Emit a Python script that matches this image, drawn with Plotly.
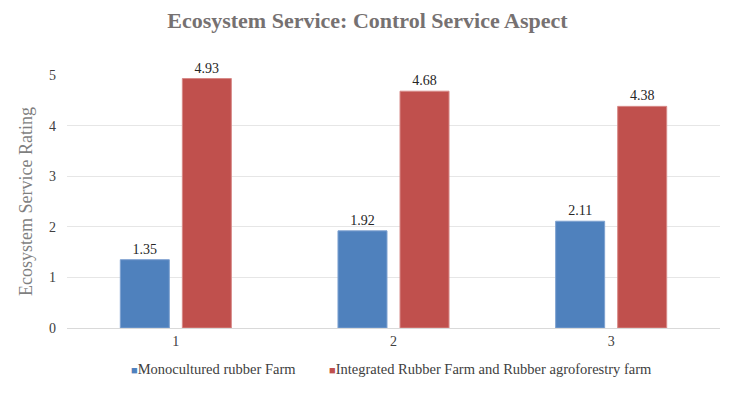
import plotly.graph_objects as go

categories = ["1", "2", "3"]
mono_values = [1.35, 1.92, 2.11]
integrated_values = [4.93, 4.68, 4.38]
series_names = ["Monocultured rubber Farm", "Integrated Rubber Farm and Rubber agroforestry farm"]
series_colors = ["#4F81BD", "#C0504D"]
title_text = "Ecosystem Service: Control Service Aspect"
y_title = "Ecosystem Service Rating"
y_ticks = [0, 1, 2, 3, 4, 5]

serif = "Liberation Serif, Times New Roman, serif"

fig = go.Figure()
fig.add_trace(go.Bar(
    x=categories, y=mono_values, name=series_names[0],
    marker=dict(color=series_colors[0], line=dict(color="#7EA1D0", width=1)),
    text=[f"{v:.2f}" for v in mono_values], textposition="outside",
    textfont=dict(family=serif, size=14, color="#262626"), cliponaxis=False,
))
fig.add_trace(go.Bar(
    x=categories, y=integrated_values, name=series_names[1],
    marker=dict(color=series_colors[1], line=dict(color="#D78A88", width=1)),
    text=[f"{v:.2f}" for v in integrated_values], textposition="outside",
    textfont=dict(family=serif, size=14, color="#262626"), cliponaxis=False,
))

# legend drawn as annotations to mimic compact square markers
legend_x = [0.095, 0.398]
for name, col, lx in zip(series_names, series_colors, legend_x):
    fig.add_annotation(
        xref="paper", yref="paper", x=lx, y=-0.163, xanchor="left", yanchor="middle",
        showarrow=False,
        text=f"<span style='color:{col};font-size:11px'>■</span>{name}",
        font=dict(family=serif, size=14.5, color="#404040"),
    )

fig.update_layout(
    width=738, height=393,
    paper_bgcolor="white", plot_bgcolor="white",
    margin=dict(l=59, r=26, t=67, b=73, autoexpand=False),
    title=dict(text=f"<b>{title_text}</b>", x=0.487, xanchor="center", y=0.969, yanchor="middle",
               xref="container", yref="container",
               font=dict(family=serif, size=22, color="#767171")),
    barmode="group", bargap=0.43, bargroupgap=0.21,
    showlegend=False,
    font=dict(family=serif, color="#404040"),
)
fig.update_xaxes(showline=True, linecolor="#D9D9D9", linewidth=1, ticks="", automargin=False,
                 tickfont=dict(family=serif, size=14, color="#404040"), showgrid=False)
fig.update_yaxes(range=[0, 5], tickvals=y_ticks, showgrid=True, gridcolor="#E6E6E6", gridwidth=1,
                 zeroline=False, showline=False, ticks="", ticklabelstandoff=10, automargin=False,
                 tickfont=dict(family=serif, size=14, color="#404040"),
                 title=dict(text=y_title, font=dict(family=serif, size=18, color="#7F7F7F"), standoff=11))

fig.write_html("out.html")
